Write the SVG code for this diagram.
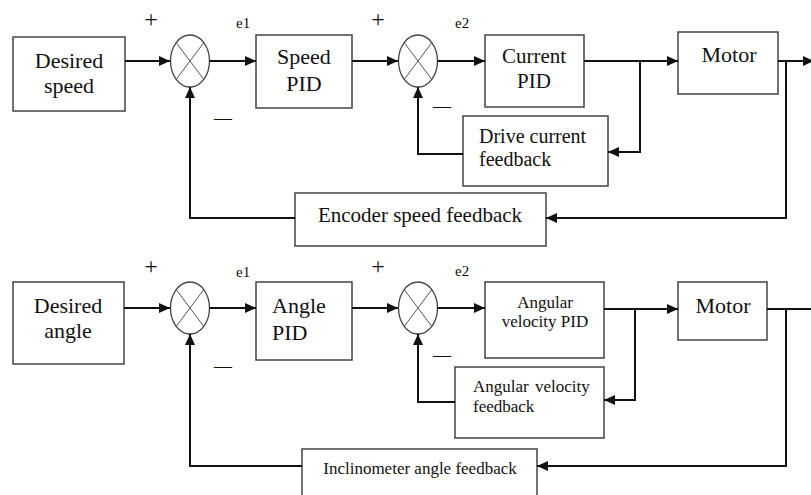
<svg xmlns="http://www.w3.org/2000/svg" width="811" height="495" viewBox="0 0 811 495">
  <defs>
    <marker id="arrow" markerUnits="userSpaceOnUse" markerWidth="12" markerHeight="10" refX="11" refY="5" orient="auto">
      <path d="M0,0 L11,5 L0,10 Z" fill="#111"/>
    </marker>
    <style>
      .box { fill: #fff; stroke: #444; stroke-width: 1.5; }
      .sum { fill: #fff; stroke: #444; stroke-width: 1.3; }
      .cross { stroke: #555; stroke-width: 1; }
      .wire { fill: none; stroke: #111; stroke-width: 2; }
      .arr { marker-end: url(#arrow); }
      text { font-family: "Liberation Serif", "Times New Roman", serif; fill: #111; }
      .big { font-size: 22px; text-anchor: middle; }
      .mid { font-size: 20px; }
      .small { font-size: 17px; }
      .sign { font-size: 24px; text-anchor: middle; }
      .minus { font-size: 18px; text-anchor: middle; }
      .lbl { font-size: 15px; }
    </style>
  </defs>

  <rect width="811" height="495" fill="#fff"/>

  <!-- ===== Speed loop (top) ===== -->
  <g id="desired-speed">
    <rect class="box" x="13" y="37" width="112" height="74"/>
    <text class="big" x="69" y="68">Desired</text>
    <text class="big" x="69" y="93">speed</text>
  </g>
  <g id="sum1-top">
    <ellipse class="sum" cx="190" cy="61" rx="19.5" ry="26"/>
    <line class="cross" x1="176.2" y1="42.6" x2="203.8" y2="79.4"/>
    <line class="cross" x1="203.8" y1="42.6" x2="176.2" y2="79.4"/>
  </g>
  <g id="speed-pid">
    <rect class="box" x="256" y="35" width="96" height="73"/>
    <text class="big" x="304" y="64">Speed</text>
    <text class="big" x="304" y="91">PID</text>
  </g>
  <g id="sum2-top">
    <ellipse class="sum" cx="418" cy="61" rx="19.5" ry="26"/>
    <line class="cross" x1="404.2" y1="42.6" x2="431.8" y2="79.4"/>
    <line class="cross" x1="431.8" y1="42.6" x2="404.2" y2="79.4"/>
  </g>
  <g id="current-pid">
    <rect class="box" x="485" y="35" width="99" height="72"/>
    <text class="big" x="534" y="63" style="font-size:21px">Current</text>
    <text class="big" x="534" y="88" style="font-size:21px">PID</text>
  </g>
  <g id="motor-top">
    <rect class="box" x="678" y="32" width="100" height="62"/>
    <text class="big" x="729" y="62">Motor</text>
  </g>
  <g id="drive-current-feedback">
    <rect class="box" x="463" y="116" width="145" height="70"/>
    <text class="mid" x="479" y="143">Drive current</text>
    <text class="mid" x="479" y="166">feedback</text>
  </g>
  <g id="encoder-speed-feedback">
    <rect class="box" x="295" y="193" width="251" height="53"/>
    <text class="big" x="420" y="222" style="font-size:21px">Encoder speed feedback</text>
  </g>

  <g id="labels-top">
    <text class="sign" x="151" y="27">+</text>
    <text class="sign" x="378" y="27">+</text>
    <text class="lbl" x="236" y="28">e1</text>
    <text class="lbl" x="455" y="28">e2</text>
    <text class="minus" x="223" y="124">—</text>
    <text class="minus" x="442" y="112">—</text>
  </g>

  <g id="connectors-top">
    <line class="wire arr" x1="125" y1="61" x2="170" y2="61"/>
    <line class="wire arr" x1="209.5" y1="61" x2="256" y2="61"/>
    <line class="wire arr" x1="352" y1="61" x2="398" y2="61"/>
    <line class="wire arr" x1="437.5" y1="61" x2="485" y2="61"/>
    <line class="wire arr" x1="584" y1="61" x2="678" y2="61"/>
    <line class="wire arr" x1="778" y1="61" x2="814" y2="61"/>
    <polyline class="wire arr" points="640,61 640,152 608,152"/>
    <polyline class="wire arr" points="463,154 418,154 418,87"/>
    <polyline class="wire arr" points="786,61 786,218 546,218"/>
    <polyline class="wire arr" points="295,218 190,218 190,87"/>
  </g>

  <!-- ===== Angle loop (bottom) ===== -->
  <g id="desired-angle">
    <rect class="box" x="13" y="282" width="111" height="82"/>
    <text class="big" x="68" y="313">Desired</text>
    <text class="big" x="68" y="338">angle</text>
  </g>
  <g id="sum1-bottom">
    <ellipse class="sum" cx="190" cy="308" rx="19.5" ry="26"/>
    <line class="cross" x1="176.2" y1="289.6" x2="203.8" y2="326.4"/>
    <line class="cross" x1="203.8" y1="289.6" x2="176.2" y2="326.4"/>
  </g>
  <g id="angle-pid">
    <rect class="box" x="256" y="282" width="96" height="78"/>
    <text class="big" x="272" y="313" style="text-anchor:start">Angle</text>
    <text class="big" x="272" y="340" style="text-anchor:start">PID</text>
  </g>
  <g id="sum2-bottom">
    <ellipse class="sum" cx="418" cy="308" rx="19.5" ry="26"/>
    <line class="cross" x1="404.2" y1="289.6" x2="431.8" y2="326.4"/>
    <line class="cross" x1="431.8" y1="289.6" x2="404.2" y2="326.4"/>
  </g>
  <g id="angular-velocity-pid">
    <rect class="box" x="485" y="282" width="119" height="76"/>
    <text class="small" x="545" y="308" text-anchor="middle">Angular</text>
    <text class="small" x="545" y="327" text-anchor="middle">velocity PID</text>
  </g>
  <g id="motor-bottom">
    <rect class="box" x="678" y="282" width="89" height="58"/>
    <text class="big" x="723" y="313">Motor</text>
  </g>
  <g id="angular-velocity-feedback">
    <rect class="box" x="455" y="367" width="149" height="71"/>
    <text class="small" x="473" y="392" style="word-spacing:2px">Angular velocity</text>
    <text class="small" x="473" y="412">feedback</text>
  </g>
  <g id="inclinometer-angle-feedback">
    <rect class="box" x="302" y="449" width="235" height="60"/>
    <text class="small" x="420" y="474" text-anchor="middle">Inclinometer angle feedback</text>
  </g>

  <g id="labels-bottom">
    <text class="sign" x="151" y="274">+</text>
    <text class="sign" x="378" y="274">+</text>
    <text class="lbl" x="236" y="277">e1</text>
    <text class="lbl" x="455" y="276">e2</text>
    <text class="minus" x="223" y="372">—</text>
    <text class="minus" x="442" y="361">—</text>
  </g>

  <g id="connectors-bottom">
    <line class="wire arr" x1="124" y1="308" x2="170" y2="308"/>
    <line class="wire arr" x1="209.5" y1="308" x2="256" y2="308"/>
    <line class="wire arr" x1="352" y1="308" x2="398" y2="308"/>
    <line class="wire arr" x1="437.5" y1="308" x2="485" y2="308"/>
    <line class="wire arr" x1="604" y1="309" x2="678" y2="309"/>
    <line class="wire" x1="767" y1="309" x2="811" y2="309"/>
    <polyline class="wire arr" points="635,309 635,400 604,400"/>
    <polyline class="wire arr" points="455,402 418,402 418,334"/>
    <polyline class="wire arr" points="786,309 786,466 537,466"/>
    <polyline class="wire arr" points="302,466 190,466 190,334"/>
  </g>
</svg>
